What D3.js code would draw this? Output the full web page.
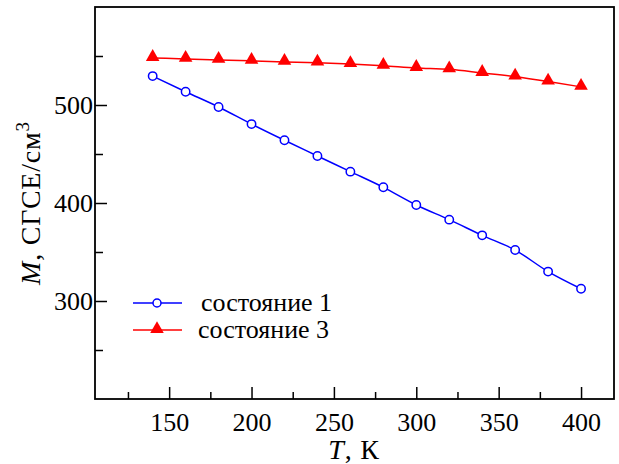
<!DOCTYPE html>
<html><head><meta charset="utf-8">
<script src="https://cdn.jsdelivr.net/npm/d3@7"></script>
<style>body{margin:0;background:#fff} svg text{font-family:"Liberation Serif","Times New Roman","DejaVu Serif",serif !important;}</style>
</head><body>
<svg id="c" width="619" height="464"></svg>
<script>
const temps = [140,160,180,200,220,240,260,280,300,320,340,360,380,400];
const state1 = [529.5,513.5,498,480.5,464,448,432,416,398,383,367,352,330,312.5];
const state3 = [548,547,546,545,544,543.2,541.8,540,537.8,536.4,532.7,528.9,524,518.5];
const xTicks = [150,200,250,300,350,400];
const xMinor = [125,175,225,275,325,375];
const yTicks = [300,400,500];
const yMinor = [250,350,450,550];
const seriesNames = ["состояние 1","состояние 3"];

const svg = d3.select("#c");
const FS = 26, TS = 28;
const L=95, R=614, T=7, B=399;
const x = d3.scaleLinear().domain([105,420]).range([L,R]);
const y = d3.scaleLinear().domain([200,600]).range([B,T]);

const xAx = svg.append("g").attr("transform",`translate(0,${B})`)
  .call(d3.axisBottom(x).tickValues(xTicks).tickSize(-12).tickPadding(16));
const xAxm = svg.append("g").attr("transform",`translate(0,${B})`)
  .call(d3.axisBottom(x).tickValues(xMinor).tickSize(-7).tickFormat(""));
const yAx = svg.append("g").attr("transform",`translate(${L},0)`)
  .call(d3.axisLeft(y).tickValues(yTicks).tickSize(-12).tickPadding(16));
const yAxm = svg.append("g").attr("transform",`translate(${L},0)`)
  .call(d3.axisLeft(y).tickValues(yMinor).tickSize(-8).tickFormat(""));
[xAx,xAxm,yAx,yAxm].forEach(g=>{
  g.attr("font-family",null);
  g.select(".domain").remove();
  g.selectAll(".tick line").attr("stroke","#000").attr("stroke-width",1.5);
  g.selectAll(".tick text").attr("font-size",FS).attr("fill","#000");
});
xAx.selectAll(".tick text").attr("dy",null).attr("y",32);
yAx.selectAll(".tick text").attr("x",-2).attr("dy","0.34em");

svg.append("rect").attr("x",L).attr("y",T).attr("width",R-L).attr("height",B-T)
  .attr("fill","none").attr("stroke","#000").attr("stroke-width",1.8);

const line = d3.line().curve(d3.curveMonotoneX);
const p1 = temps.map((t,i)=>[x(t),y(state1[i])]);
const p3 = temps.map((t,i)=>[x(t),y(state3[i])]);
svg.append("path").attr("d",line(p3)).attr("fill","none").attr("stroke","#ff0000").attr("stroke-width",1.5);
svg.append("path").attr("d",line(p1)).attr("fill","none").attr("stroke","#0000ff").attr("stroke-width",1.5);

const tri = d3.symbol().type(d3.symbolTriangle).size(80);
svg.selectAll(".tri").data(p3).join("path")
  .attr("transform",d=>`translate(${d[0]},${d[1]-1})`).attr("d",tri).attr("fill","#ff0000");
svg.selectAll(".circ").data(p1).join("circle")
  .attr("cx",d=>d[0]).attr("cy",d=>d[1]).attr("r",4.2)
  .attr("fill","#fff").attr("stroke","#0000ff").attr("stroke-width",1.5);

const lg = svg.append("g");
lg.append("line").attr("x1",133).attr("x2",182).attr("y1",303).attr("y2",303).attr("stroke","#0000ff").attr("stroke-width",1.5);
lg.append("circle").attr("cx",157).attr("cy",303).attr("r",4).attr("fill","#fff").attr("stroke","#0000ff").attr("stroke-width",1.5);
lg.append("line").attr("x1",133).attr("x2",182).attr("y1",330).attr("y2",330).attr("stroke","#ff0000").attr("stroke-width",1.5);
lg.append("path").attr("transform","translate(157,329)").attr("d",tri).attr("fill","#ff0000");
lg.append("text").attr("x",201).attr("y",311).text(seriesNames[0])
  .attr("font-size",FS).attr("fill","#000");
lg.append("text").attr("x",198).attr("y",338).text(seriesNames[1])
  .attr("font-size",FS).attr("fill","#000");

const xt = svg.append("text").attr("x",354).attr("y",459).attr("text-anchor","middle")
  .attr("font-size",TS).attr("fill","#000").attr("letter-spacing",0.8);
xt.append("tspan").attr("font-style","italic").text("T");
xt.append("tspan").text(", К");

const yt = svg.append("text").attr("transform",`translate(40,${(T+B)/2}) rotate(-90)`).attr("text-anchor","middle")
  .attr("font-size",TS).attr("fill","#000").attr("letter-spacing",0.8);
yt.append("tspan").attr("font-style","italic").text("M");
yt.append("tspan").text(", СГСЕ/см");
yt.append("tspan").attr("font-size",19).attr("dy",-11).text("3");
</script>
</body></html>
